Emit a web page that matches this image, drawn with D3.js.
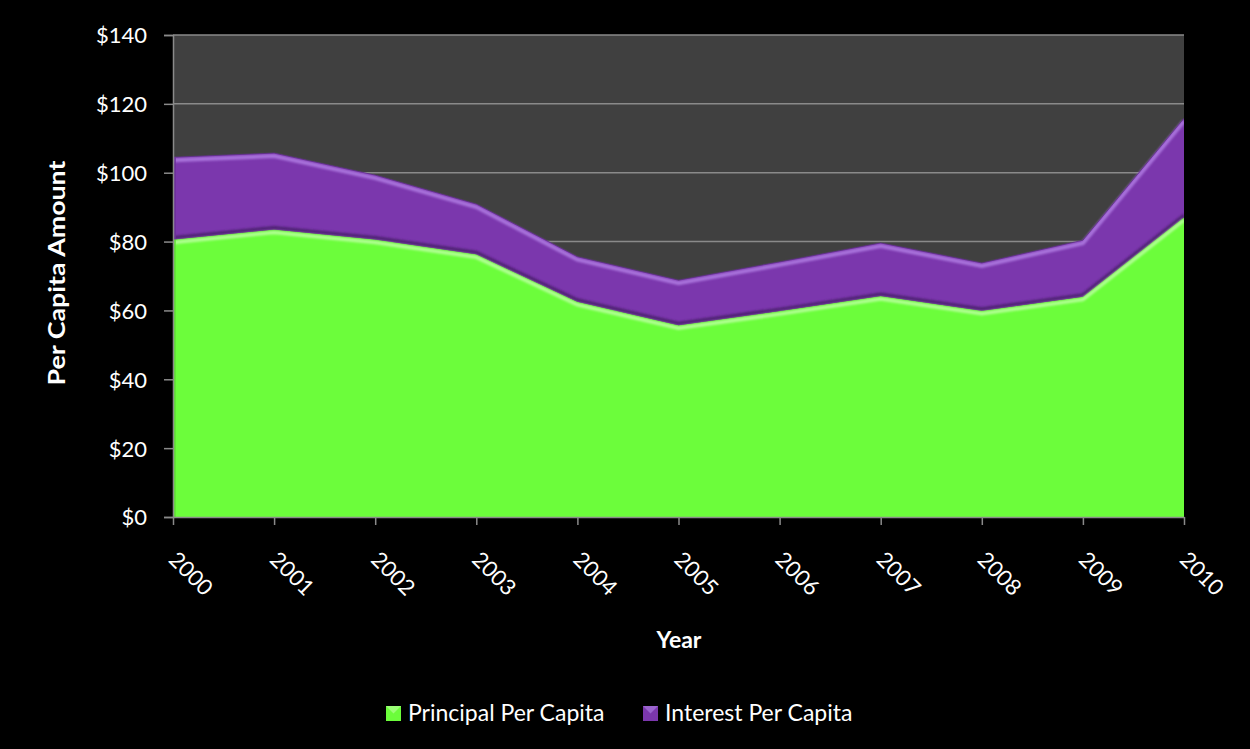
<!DOCTYPE html>
<html>
<head>
<meta charset="utf-8">
<script src="https://cdn.jsdelivr.net/npm/d3@7"></script>
<style>
  html, body { margin: 0; padding: 0; background: #000; }
  svg { display: block; }
  text { font-family: Lato, "Open Sans", sans-serif; fill: #fff; }
</style>
</head>
<body>
<svg id="chart" width="1250" height="749"></svg>
<script>
// Per capita debt service, principal and interest stacked
const years = ["2000","2001","2002","2003","2004","2005","2006","2007","2008","2009","2010"];
const principal = [80.6, 83.5, 80.6, 76.3, 62.5, 55.7, 59.8, 64.2, 59.9, 64.0, 87.1];
const interest  = [23.9, 22.2, 18.7, 14.6, 13.1, 13.1, 14.3, 15.4, 13.9, 16.4, 28.7];
const yTicks = [0, 20, 40, 60, 80, 100, 120, 140];
const seriesNames = ["Principal Per Capita", "Interest Per Capita"];

const colors = { principal: "#6cfd3b", interest: "#7b37ad" };

const svg = d3.select("#chart");
const W = 1250, H = 749;
svg.append("rect").attr("width", W).attr("height", H).attr("fill", "#000");

const m = { left: 173, right: 1184, top: 35, bottom: 517 };

const x = d3.scalePoint().domain(years).range([m.left, m.right]);
const y = d3.scaleLinear().domain([0, 140]).range([m.bottom, m.top]);

// plot background
svg.append("rect")
  .attr("x", m.left).attr("y", m.top)
  .attr("width", m.right - m.left).attr("height", m.bottom - m.top)
  .attr("fill", "#404040");

// horizontal gridlines
svg.append("g").selectAll("line").data(yTicks.filter(d => d > 0)).join("line")
  .attr("x1", m.left).attr("x2", m.right)
  .attr("y1", d => y(d)).attr("y2", d => y(d))
  .attr("stroke", "#8a8a8a").attr("stroke-width", 1.5);

// stacked areas
const rows = years.map((yr, i) => ({ year: yr, principal: principal[i], interest: interest[i] }));
const stack = d3.stack().keys(["principal", "interest"]);
const layers = stack(rows);

const area = d3.area()
  .x(d => x(d.data.year))
  .y0(d => y(d[0]))
  .y1(d => y(d[1]));
const topLine = d3.line()
  .x(d => x(d.data.year))
  .y(d => y(d[1]));

const defs = svg.append("defs");
const blur = defs.append("filter").attr("id", "soft").attr("x", "-5%").attr("y", "-5%").attr("width", "110%").attr("height", "110%");
blur.append("feGaussianBlur").attr("stdDeviation", 1);
defs.append("clipPath").attr("id", "plotClip").append("rect")
  .attr("x", m.left).attr("y", m.top - 10)
  .attr("width", m.right - m.left).attr("height", m.bottom - m.top + 10);

const g = svg.append("g").attr("clip-path", "url(#plotClip)");

layers.forEach(layer => {
  g.append("path").datum(layer)
    .attr("d", area)
    .attr("fill", colors[layer.key]);
});

// bevel shading along the upper edges
const purple = layers[1], green = layers[0];
// dark shadow under purple band, just above the green edge
g.append("path").datum(green)
  .attr("d", topLine)
  .attr("transform", "translate(0,-2)")
  .attr("fill", "none").attr("stroke", "#4e2272").attr("stroke-width", 3)
  .attr("filter", "url(#soft)");
// green highlight
g.append("path").datum(green)
  .attr("d", topLine)
  .attr("transform", "translate(0,3)")
  .attr("fill", "none").attr("stroke", "#b8ff9c").attr("stroke-width", 3.5)
  .attr("filter", "url(#soft)").attr("opacity", 0.9);
// purple highlight
g.append("path").datum(purple)
  .attr("d", topLine)
  .attr("transform", "translate(0,3)")
  .attr("fill", "none").attr("stroke", "#ab76de").attr("stroke-width", 4)
  .attr("filter", "url(#soft)").attr("opacity", 0.95);
g.append("path").datum(purple)
  .attr("d", topLine)
  .attr("fill", "none").attr("stroke", "#5a2a85").attr("stroke-width", 1)
  .attr("opacity", 0.7);
// left edge bevel
g.append("rect").attr("x", m.left).attr("y", y(principal[0] + interest[0]))
  .attr("width", 3).attr("height", y(principal[0]) - y(principal[0] + interest[0]))
  .attr("fill", "#6a2e98").attr("opacity", 0.8);
g.append("rect").attr("x", m.left).attr("y", y(principal[0]))
  .attr("width", 3).attr("height", m.bottom - y(principal[0]))
  .attr("fill", "#5fe033").attr("opacity", 0.8);

// axes
const yAxis = d3.axisLeft(y).tickValues(yTicks).tickSize(9).tickFormat(d => "$" + d);
const gy = svg.append("g").attr("transform", `translate(${m.left},0)`).call(yAxis);
gy.select(".domain").attr("stroke", "#8a8a8a").attr("stroke-width", 1.5);
gy.selectAll(".tick line").attr("stroke", "#8a8a8a").attr("stroke-width", 1.5);
gy.selectAll(".tick text")
  .attr("x", -26).attr("dy", "0.36em")
  .style("font-size", "22px").style("font-family", "Lato, 'Open Sans', sans-serif")
  .attr("fill", "#fff");

const xAxis = d3.axisBottom(x).tickSize(8).tickSizeOuter(0);
const gx = svg.append("g").attr("transform", `translate(0,${m.bottom})`).call(xAxis);
gx.select(".domain").attr("stroke", "#8a8a8a").attr("stroke-width", 1.5);
gx.selectAll(".tick line").attr("stroke", "#8a8a8a").attr("stroke-width", 1.5);
gx.selectAll(".tick text")
  .attr("text-anchor", "start")
  .attr("x", 0).attr("y", 0).attr("dy", 0)
  .attr("transform", "translate(-6,44) rotate(45)")
  .style("font-size", "22px").style("font-family", "Lato, 'Open Sans', sans-serif")
  .attr("fill", "#fff");

// axis titles
svg.append("text")
  .attr("transform", `translate(65,273) rotate(-90)`)
  .attr("text-anchor", "middle")
  .attr("textLength", 225).attr("lengthAdjust", "spacingAndGlyphs")
  .style("font-size", "22px").style("font-weight", "bold")
  .text("Per Capita Amount");

svg.append("text")
  .attr("x", 679).attr("y", 648)
  .attr("text-anchor", "middle")
  .style("font-size", "23px").style("font-weight", "bold")
  .text("Year");

// legend
const legendItems = [
  { name: seriesNames[0], color: colors.principal, light: "#a8ff86", x: 386 },
  { name: seriesNames[1], color: colors.interest, light: "#a36fd6", x: 643 }
];
const lg = svg.append("g");
legendItems.forEach(it => {
  const s = lg.append("g").attr("transform", `translate(${it.x},706)`);
  s.append("rect").attr("width", 15).attr("height", 15).attr("fill", it.color);
  s.append("path").attr("d", "M0,0 L15,0 L7.5,7.5 Z").attr("fill", it.light).attr("opacity", 0.8);
  lg.append("text")
    .attr("x", it.x + 22).attr("y", 721)
    .style("font-size", "23px")
    .text(it.name);
});
</script>
</body>
</html>
